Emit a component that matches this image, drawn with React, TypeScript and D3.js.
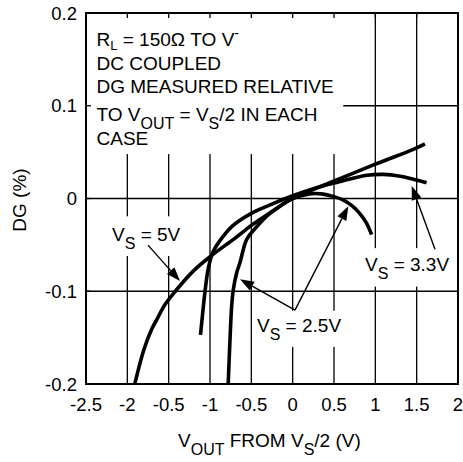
import React from "react";
import * as d3 from "d3";

const xTicks = [-2.5, -2, -1.5, -1, -0.5, 0, 0.5, 1, 1.5, 2];
const xTickLabels = ["-2.5", "-2", "-0.5", "-1", "-0.5", "0", "0.5", "1", "1.5", "2"];
const yTicks = [-0.2, -0.1, 0, 0.1, 0.2];
const yTickLabels = ["-0.2", "-0.1", "0", "0.1", "0.2"];

const vs5: [number, number][] = [
  [-1.91, -0.2], [-1.8, -0.163], [-1.7, -0.14], [-1.64, -0.13], [-1.55, -0.115],
  [-1.42, -0.1], [-1.2, -0.078], [-0.96, -0.06], [-0.7, -0.043], [-0.5, -0.029],
  [-0.25, -0.014], [0, 0], [0.45, 0.017], [1, 0.037], [1.46, 0.053], [1.6, 0.059],
];
const vs33: [number, number][] = [
  [-1.115, -0.147], [-1.09, -0.125], [-1.06, -0.1], [-1.02, -0.075], [-0.96, -0.057],
  [-0.86, -0.043], [-0.72, -0.029], [-0.5, -0.016], [-0.25, -0.006], [0, 0.003],
  [0.3, 0.012], [0.6, 0.019], [0.9, 0.025], [1.1, 0.026], [1.3, 0.024], [1.45, 0.021],
  [1.62, 0.017],
];
const vs25: [number, number][] = [
  [-0.78, -0.2], [-0.758, -0.152], [-0.738, -0.116], [-0.718, -0.098], [-0.677, -0.08],
  [-0.637, -0.069], [-0.556, -0.044], [-0.45, -0.032], [-0.3, -0.018], [-0.15, -0.008],
  [0, 0], [0.2, 0.005], [0.35, 0.005], [0.5, 0.002], [0.62, -0.002], [0.72, -0.008],
  [0.81, -0.016], [0.89, -0.026], [0.955, -0.039],
];

const FONT = "'Liberation Sans', Arial, Helvetica, sans-serif";

const x = d3.scaleLinear().domain([-2.5, 2]).range([86, 458]);
const y = d3.scaleLinear().domain([-0.2, 0.2]).range([384, 13]);

const line = d3
  .line<[number, number]>()
  .x((d) => x(d[0]))
  .y((d) => y(d[1]))
  .curve(d3.curveCatmullRom.alpha(0.5));

function Arrow({ x1, y1, x2, y2 }: { x1: number; y1: number; x2: number; y2: number }) {
  const a = Math.atan2(y2 - y1, x2 - x1);
  const L = 14;
  const W = 5;
  const bx = x2 - L * Math.cos(a);
  const by = y2 - L * Math.sin(a);
  const px = -Math.sin(a) * W;
  const py = Math.cos(a) * W;
  return (
    <g>
      <line x1={x1} y1={y1} x2={bx} y2={by} stroke="#000" strokeWidth={1.4} />
      <polygon points={`${x2},${y2} ${bx + px},${by + py} ${bx - px},${by - py}`} fill="#000" />
    </g>
  );
}

export default function App() {
  const left = x(-2.5);
  const right = x(2);
  const top = y(0.2);
  const bottom = y(-0.2);

  return (
    <svg
      width={463}
      height={462}
      style={{ position: "absolute", left: 0, top: 0, background: "#fff" }}
      fontFamily={FONT}
    >
      <rect x={0} y={0} width={463} height={462} fill="#fff" />
      {/* grid */}
      {xTicks.map((t) => (
        <line key={"gx" + t} x1={x(t)} x2={x(t)} y1={top} y2={bottom} stroke="#000" strokeWidth={1.3} />
      ))}
      {yTicks.map((t) => (
        <line key={"gy" + t} x1={left} x2={right} y1={y(t)} y2={y(t)} stroke="#000" strokeWidth={1.3} />
      ))}
      {/* masks for labels */}
      <rect x={left + 1} y={top + 1} width={x(0.6) - left} height={y(0.049) - top} fill="#fff" />
      <rect x={x(-2.27)} y={y(-0.0192)} width={x(-1.3) - x(-2.27)} height={y(-0.062) - y(-0.0192)} fill="#fff" />
      <rect x={x(0.85)} y={y(-0.0535)} width={x(1.85) - x(0.85)} height={y(-0.095) - y(-0.0535)} fill="#fff" />
      <rect x={x(-0.47)} y={y(-0.121)} width={x(0.6) - x(-0.47)} height={y(-0.160) - y(-0.121)} fill="#fff" />
      {/* frame */}
      <rect x={left} y={top} width={right - left} height={bottom - top} fill="none" stroke="#000" strokeWidth={2} />
      {/* inner ticks */}
      {xTicks.map((t) => (
        <line key={"tx" + t} x1={x(t)} x2={x(t)} y1={top} y2={top + 5} stroke="#000" strokeWidth={1.3} />
      ))}
      {yTicks.map((t) => (
        <line key={"ty" + t} x1={left} x2={left + 5} y1={y(t)} y2={y(t)} stroke="#000" strokeWidth={1.3} />
      ))}
      {/* curves */}
      {[vs5, vs33, vs25].map((s, i) => (
        <path key={"c" + i} d={line(s) || ""} fill="none" stroke="#000" strokeWidth={3.6} strokeLinecap="butt" />
      ))}
      {/* arrows */}
      <Arrow x1={x(-1.75)} y1={y(-0.0503)} x2={x(-1.363)} y2={y(-0.089)} />
      <Arrow x1={x(1.722)} y1={y(-0.0547)} x2={x(1.44)} y2={y(0.0136)} />
      <Arrow x1={x(0.028)} y1={y(-0.1204)} x2={x(-0.637)} y2={y(-0.087)} />
      <Arrow x1={x(0.028)} y1={y(-0.1204)} x2={x(0.673)} y2={y(-0.0083)} />
      {/* curve labels */}
      <text x={x(-2.185)} y={y(-0.046)} fontSize={19}>
        V<tspan fontSize={16} dy={8}>S</tspan>
        <tspan dy={-8}> = 5V</tspan>
      </text>
      <text x={x(0.875)} y={y(-0.0784)} fontSize={19}>
        V<tspan fontSize={16} dy={8}>S</tspan>
        <tspan dy={-8}> = 3.3V</tspan>
      </text>
      <text x={x(-0.432)} y={y(-0.144)} fontSize={19}>
        V<tspan fontSize={16} dy={8}>S</tspan>
        <tspan dy={-8}> = 2.5V</tspan>
      </text>
      {/* condition box text */}
      <g fontSize={19}>
        <text x={96.5} y={46}>
          R<tspan fontSize={13} dy={3.5}>L</tspan>
          <tspan dy={-3.5}> = 150Ω TO V</tspan>
          <tspan fontSize={14} dy={-8}>-</tspan>
        </text>
        <text x={96.5} y={70}>DC COUPLED</text>
        <text x={96.5} y={92.5}>DG MEASURED RELATIVE</text>
        <text x={96.5} y={121}>
          TO V<tspan fontSize={16} dy={8}>OUT</tspan>
          <tspan dy={-8}> = V</tspan>
          <tspan fontSize={16} dy={8}>S</tspan>
          <tspan dy={-8}>/2 IN EACH</tspan>
        </text>
        <text x={96.5} y={145}>CASE</text>
      </g>
      {/* tick labels */}
      {xTicks.map((t, i) => (
        <text key={"lx" + t} x={x(t)} y={411} fontSize={18.5} textAnchor="middle">
          {xTickLabels[i]}
        </text>
      ))}
      {yTicks.map((t, i) => (
        <text key={"ly" + t} x={77} y={y(t) + 6.5} fontSize={18.5} textAnchor="end">
          {yTickLabels[i]}
        </text>
      ))}
      {/* axis titles */}
      <text x={178} y={447} fontSize={19}>
        V<tspan fontSize={16} dy={8}>OUT</tspan>
        <tspan dy={-8}> FROM V</tspan>
        <tspan fontSize={16} dy={8}>S</tspan>
        <tspan dy={-8}>/2 (V)</tspan>
      </text>
      <text transform="translate(26,200) rotate(-90)" fontSize={19} textAnchor="middle">
        DG (%)
      </text>
    </svg>
  );
}
